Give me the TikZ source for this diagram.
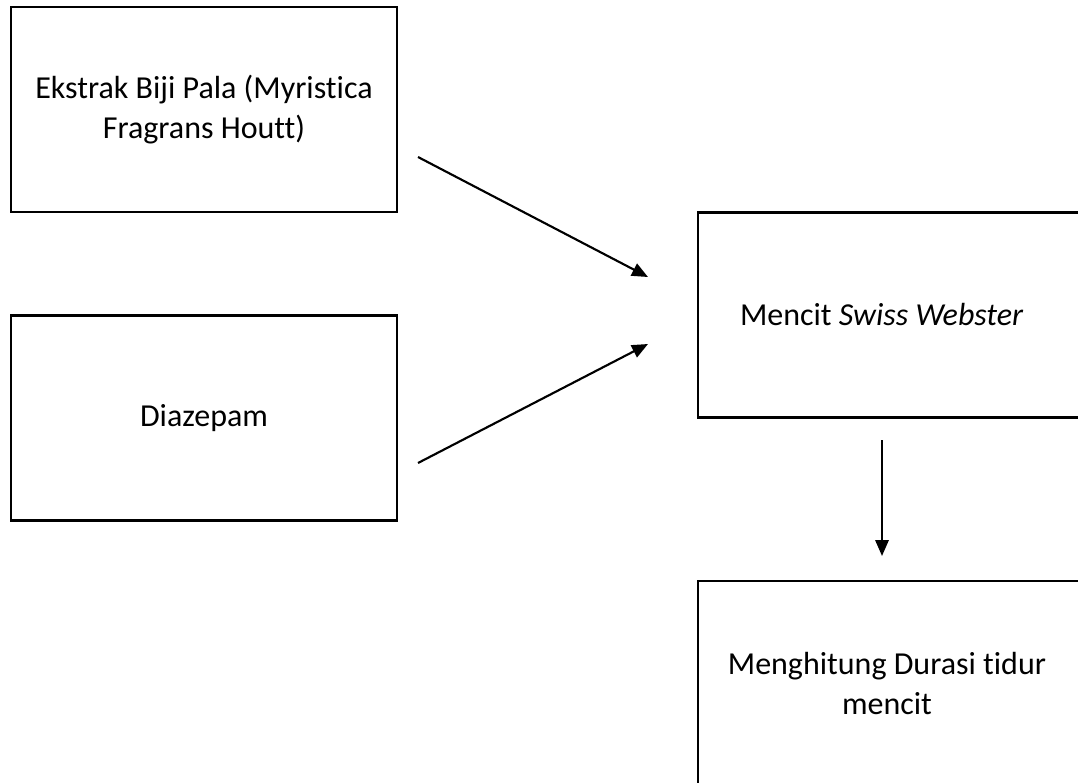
\documentclass[tikz,border=0pt]{standalone}
\usepackage{fontspec}
\setmainfont{Carlito}[Ligatures=NoCommon]
\usetikzlibrary{arrows.meta}

\begin{document}
\begin{tikzpicture}[
    x=0.75pt, y=-0.75pt,
    every node/.style={font=\fontsize{24}{30}\selectfont},
    process/.style={
        rectangle,
        draw,
        line width=1.8pt,
        minimum width=289.5pt,
        minimum height=153.75pt,
        inner sep=0pt,
        align=center
    },
    arrow/.style={-{Triangle[length=12pt,width=10pt]}, line width=1.6pt}
]
\useasboundingbox (0,0) rectangle (1078,782);
\clip (0,0) rectangle (1078,782);

% Nodes
\node (ekstrak) [process] at (204,109.5)
{Ekstrak Biji Pala (Myristica\\Fragrans Houtt)};

\node (diazepam) [process] at (204,418) {Diazepam};

\node (mencit) [process] at (891,315)
{Mencit \textit{Swiss Webster}\hspace*{14pt}};

\node (durasi) [process] at (891,683.5)
{Menghitung Durasi tidur\hspace*{6pt}\\mencit\hspace*{6pt}};

% Arrow ends
\coordinate (ekstrakout) at (418,157);
\coordinate (diazepamout) at (418,463);
\coordinate (mencitin1) at (648,277);
\coordinate (mencitin2) at (648,344);
\coordinate (mencitout) at (882,440);
\coordinate (durasiin) at (882,556);

% Arrows
\draw [arrow] (ekstrakout) -- (mencitin1);
\draw [arrow] (diazepamout) -- (mencitin2);
\draw [arrow] (mencitout) -- (durasiin);

\end{tikzpicture}
\end{document}
